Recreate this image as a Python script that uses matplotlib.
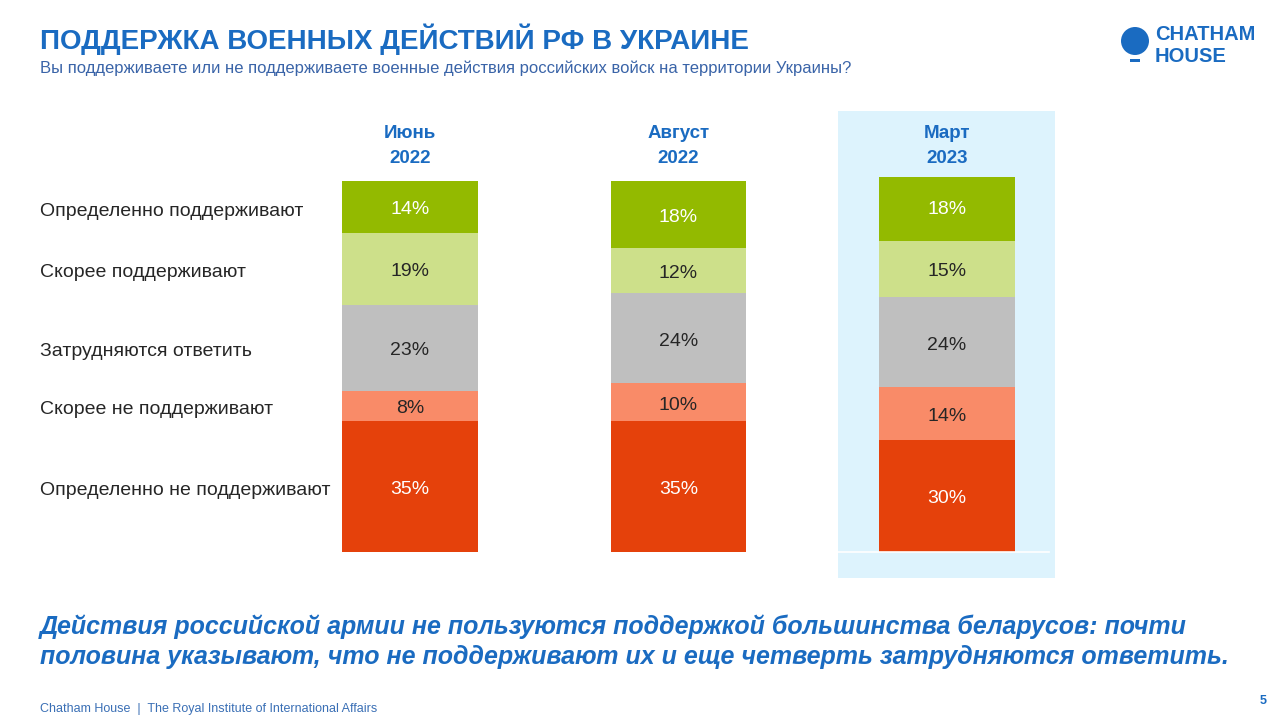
#!/usr/bin/env python3
"""
Support for Russian military action in Ukraine - stacked bars (Chatham House slide)
"""

import matplotlib
matplotlib.use('Agg')
import matplotlib.pyplot as plt
from matplotlib.patches import Rectangle, Circle
from matplotlib.transforms import blended_transform_factory, offset_copy
import numpy as np

plt.rcParams['font.family'] = ['Liberation Sans', 'DejaVu Sans']

# Data (bottom to top)
periods = ['Июнь\n2022', 'Август\n2022', 'Март\n2023']
categories = ['Определенно не поддерживают', 'Скорее не поддерживают',
              'Затрудняются ответить', 'Скорее поддерживают',
              'Определенно поддерживают']
def_not = [35, 35, 30]
rather_not = [8, 10, 14]
hard_to_say = [23, 24, 24]
rather_yes = [19, 12, 15]
def_yes = [14, 18, 18]

colors = ['#E5410B', '#F98B68', '#BFBFBF', '#CDE08A', '#93BA00']
text_colors = ['white', '#262626', '#262626', '#262626', 'white']

BLUE = '#1A6BC1'
W, H = 1280, 720

fig = plt.figure(figsize=(12.8, 7.2), dpi=100)
fig.patch.set_facecolor('white')

# highlight panel behind March
fig.patches.append(Rectangle((838 / W, 1 - 578 / H), 217 / W, 467 / H,
                             transform=fig.transFigure, facecolor='#DDF3FD',
                             edgecolor='none', zorder=-1))

ax = fig.add_axes([7.25 / W, 1 - 552 / H, 1074 / W, 375 / H])
ax.set_zorder(1)
ax.set_facecolor('none')
ax.set_xlim(-1.5, 2.5)
ax.set_ylim(0, 100)
ax.axis('off')

# text nudged 3px down to sit like the original
down = offset_copy(ax.transData, fig=fig, x=0, y=-3, units='dots')

x = np.arange(len(periods))
series = [def_not, rather_not, hard_to_say, rather_yes, def_yes]
bottom = np.zeros(len(periods))
for vals, col, tcol in zip(series, colors, text_colors):
    vals = np.array(vals, dtype=float)
    ax.bar(x, vals, bottom=bottom, width=0.503, color=col, edgecolor='none', zorder=2)
    for xi, b, v in zip(x, bottom, vals):
        ax.text(xi, b + v / 2, f'{int(v)}%', ha='center', va='center',
                fontsize=14, color=tcol, zorder=3, transform=down)
    bottom += vals

# white baseline through the March panel
ax.plot([1.57, 2.38], [0, 0], color='white', linewidth=1.2, zorder=3,
        clip_on=False)

# category labels aligned with June segments
trans = offset_copy(blended_transform_factory(fig.transFigure, ax.transData),
                    fig=fig, x=0, y=-4, units='dots')
cum = 0
for cat, vals in zip(categories, series):
    ax.text(40 / W, cum + vals[0] / 2, cat, transform=trans, ha='left',
            va='center', fontsize=14, color='#262626')
    cum += vals[0]

# period headers
for xi, p in zip(x, periods):
    ax.text(xi, 1 - 146 / H, p, transform=blended_transform_factory(ax.transData, fig.transFigure),
            ha='center', va='center', fontsize=13.5, fontweight='bold',
            color=BLUE, linespacing=1.65)

# title and subtitle
fig.text(40 / W, 1 - 39 / H, 'ПОДДЕРЖКА ВОЕННЫХ ДЕЙСТВИЙ РФ В УКРАИНЕ',
         ha='left', va='center', fontsize=20, fontweight='bold', color=BLUE)
fig.text(40 / W, 1 - 68 / H,
         'Вы поддерживаете или не поддерживаете военные действия российских войск на территории Украины?',
         ha='left', va='center', fontsize=12, color='#3A64A8')

# conclusion
fig.text(40 / W, 1 - 642 / H,
         'Действия российской армии не пользуются поддержкой большинства беларусов: почти\n'
         'половина указывают, что не поддерживают их и еще четверть затрудняются ответить.',
         ha='left', va='center', fontsize=18, fontweight='bold', style='italic',
         color=BLUE, linespacing=1.32)

# footer
fig.text(40 / W, 1 - 709 / H,
         'Chatham House  |  The Royal Institute of International Affairs',
         ha='left', va='center', fontsize=9, color='#3A6FB5')
fig.text(1263 / W, 1 - 701 / H, '5', ha='center', va='center', fontsize=9,
         fontweight='bold', color=BLUE)

# logo
fig.patches.append(Circle((11.35, 7.2 - 0.41), 0.14, transform=fig.dpi_scale_trans,
                          facecolor=BLUE, edgecolor='none'))
fig.patches.append(Rectangle((11.30, 7.2 - 0.62), 0.10, 0.025,
                             transform=fig.dpi_scale_trans,
                             facecolor=BLUE, edgecolor='none'))
fig.text(1155 / W, 1 - 35 / H, 'CHATHAM', ha='left', va='center', fontsize=14.5,
         fontweight='bold', color=BLUE)
fig.text(1155 / W, 1 - 56 / H, 'HOUSE', ha='left', va='center', fontsize=14.5,
         fontweight='bold', color=BLUE)

fig.savefig('out.png', dpi=100)
